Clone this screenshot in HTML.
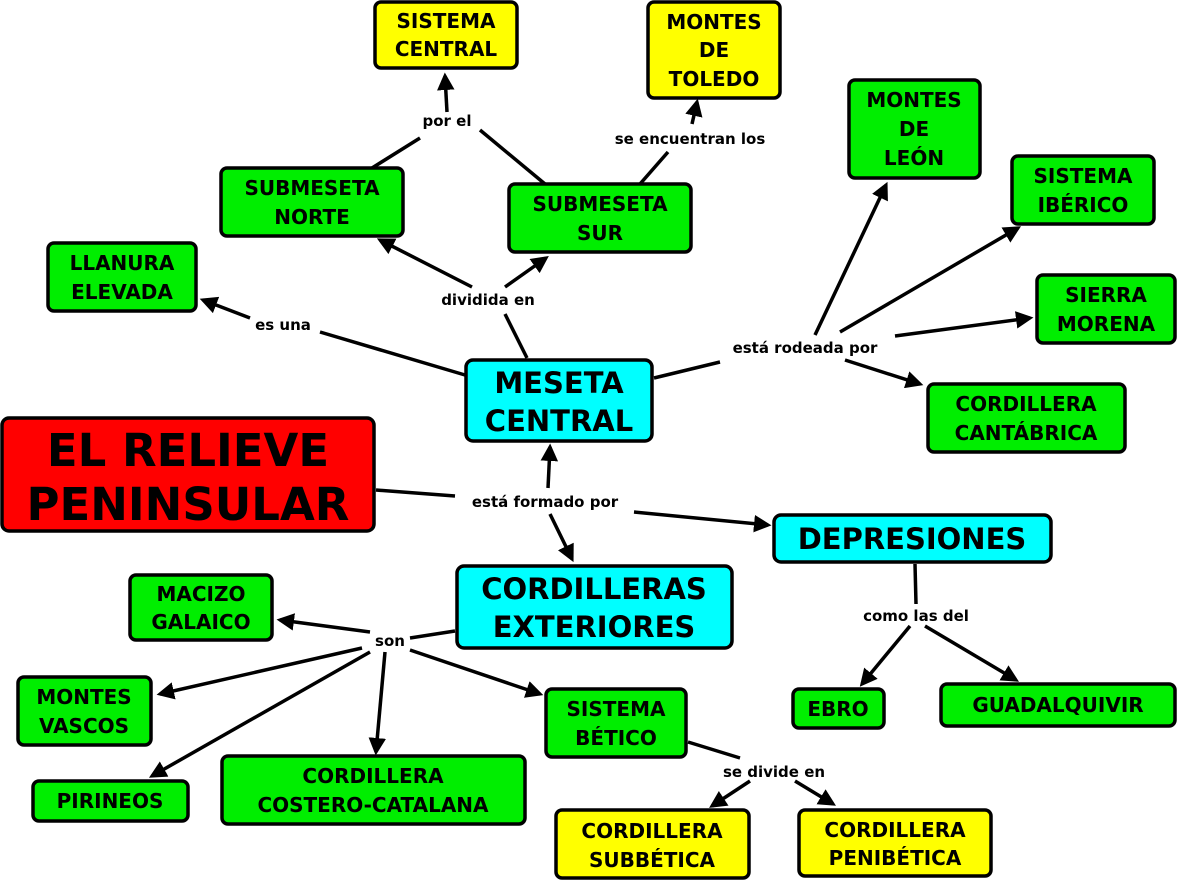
<!DOCTYPE html>
<html><head><meta charset="utf-8"><style>
html,body{margin:0;padding:0;background:#fff;}
svg{display:block}
text{font-family:"DejaVu Sans","Liberation Sans",sans-serif;font-weight:bold;fill:#000;text-anchor:middle}
.n{font-size:20px}
.l{font-size:15px}
.b{font-size:29px}
rect{stroke:#000;stroke-width:3.5}
line{stroke:#000;stroke-width:3.5}
</style></head><body>
<svg width="1179" height="882" viewBox="0 0 1179 882" xmlns="http://www.w3.org/2000/svg">
<defs><marker id="a" markerWidth="5" markerHeight="5" refX="4" refY="2.5" orient="auto" markerUnits="strokeWidth"><path d="M0,0 L5,2.5 L0,5 z" fill="#000"/></marker></defs>
<g>
<line x1="372" y1="168" x2="420" y2="138"/>
<line x1="545" y1="184" x2="480" y2="130"/>
<line x1="447" y1="112" x2="445" y2="76" marker-end="url(#a)"/>
<line x1="640" y1="184" x2="668" y2="152"/>
<line x1="692" y1="124" x2="697" y2="102" marker-end="url(#a)"/>
<line x1="527" y1="358" x2="505" y2="314"/>
<line x1="472" y1="287" x2="380" y2="240" marker-end="url(#a)"/>
<line x1="505" y1="287" x2="546" y2="258" marker-end="url(#a)"/>
<line x1="465" y1="375" x2="320" y2="332"/>
<line x1="250" y1="318" x2="203" y2="300" marker-end="url(#a)"/>
<line x1="654" y1="378" x2="720" y2="362"/>
<line x1="815" y1="335" x2="886" y2="185" marker-end="url(#a)"/>
<line x1="840" y1="332" x2="1018" y2="228" marker-end="url(#a)"/>
<line x1="895" y1="336" x2="1030" y2="318" marker-end="url(#a)"/>
<line x1="845" y1="360" x2="920" y2="384" marker-end="url(#a)"/>
<line x1="376" y1="490" x2="455" y2="496"/>
<line x1="548" y1="488" x2="550" y2="447" marker-end="url(#a)"/>
<line x1="550" y1="514" x2="572" y2="559" marker-end="url(#a)"/>
<line x1="634" y1="512" x2="768" y2="525" marker-end="url(#a)"/>
<line x1="915" y1="564" x2="916" y2="604"/>
<line x1="910" y1="626" x2="862" y2="684" marker-end="url(#a)"/>
<line x1="925" y1="626" x2="1016" y2="680" marker-end="url(#a)"/>
<line x1="455" y1="631" x2="410" y2="638"/>
<line x1="370" y1="632" x2="280" y2="620" marker-end="url(#a)"/>
<line x1="362" y1="648" x2="160" y2="694" marker-end="url(#a)"/>
<line x1="370" y1="652" x2="152" y2="776" marker-end="url(#a)"/>
<line x1="385" y1="652" x2="376" y2="752" marker-end="url(#a)"/>
<line x1="410" y1="650" x2="540" y2="694" marker-end="url(#a)"/>
<line x1="688" y1="742" x2="740" y2="758"/>
<line x1="750" y1="781" x2="712" y2="806" marker-end="url(#a)"/>
<line x1="795" y1="781" x2="833" y2="804" marker-end="url(#a)"/>
</g>
<g class="l">
<text class="l" x="447" y="126">por el</text>
<text class="l" x="690" y="144">se encuentran los</text>
<text class="l" x="488" y="305">dividida en</text>
<text class="l" x="283" y="330">es una</text>
<text class="l" x="805" y="353">está rodeada por</text>
<text class="l" x="545" y="507">está formado por</text>
<text class="l" x="916" y="621">como las del</text>
<text class="l" x="390" y="646">son</text>
<text class="l" x="774" y="777">se divide en</text>
</g>
<!-- yellow -->
<rect x="375" y="2" width="142" height="66" rx="6" fill="#ffff00"/>
<text class="n" x="446" y="28">SISTEMA</text><text class="n" x="446" y="56">CENTRAL</text>
<rect x="648" y="2" width="132" height="96" rx="6" fill="#ffff00"/>
<text class="n" x="714" y="29">MONTES</text><text class="n" x="714" y="57">DE</text><text class="n" x="714" y="86">TOLEDO</text>
<rect x="556" y="810" width="193" height="68" rx="6" fill="#ffff00"/>
<text class="n" x="652" y="838">CORDILLERA</text><text class="n" x="652" y="867">SUBBÉTICA</text>
<rect x="799" y="810" width="192" height="66" rx="6" fill="#ffff00"/>
<text class="n" x="895" y="837">CORDILLERA</text><text class="n" x="895" y="865">PENIBÉTICA</text>
<!-- green -->
<g fill="#00ee00">
<rect x="849" y="80" width="131" height="98" rx="6" fill="#00ee00"/>
<rect x="1012" y="156" width="142" height="68" rx="6" fill="#00ee00"/>
<rect x="1037" y="275" width="138" height="68" rx="6" fill="#00ee00"/>
<rect x="928" y="384" width="197" height="68" rx="6" fill="#00ee00"/>
<rect x="221" y="168" width="182" height="68" rx="6" fill="#00ee00"/>
<rect x="509" y="184" width="182" height="68" rx="6" fill="#00ee00"/>
<rect x="48" y="243" width="148" height="68" rx="6" fill="#00ee00"/>
<rect x="130" y="575" width="142" height="65" rx="6" fill="#00ee00"/>
<rect x="18" y="677" width="133" height="68" rx="6" fill="#00ee00"/>
<rect x="33" y="781" width="155" height="40" rx="6" fill="#00ee00"/>
<rect x="222" y="756" width="303" height="68" rx="6" fill="#00ee00"/>
<rect x="546" y="689" width="140" height="68" rx="6" fill="#00ee00"/>
<rect x="793" y="689" width="91" height="39" rx="6" fill="#00ee00"/>
<rect x="941" y="684" width="234" height="42" rx="6" fill="#00ee00"/>
</g>
<text class="n" x="914" y="107">MONTES</text><text class="n" x="914" y="136">DE</text><text class="n" x="914" y="165">LEÓN</text>
<text class="n" x="1083" y="183">SISTEMA</text><text class="n" x="1083" y="212">IBÉRICO</text>
<text class="n" x="1106" y="302">SIERRA</text><text class="n" x="1106" y="331">MORENA</text>
<text class="n" x="1026" y="411">CORDILLERA</text><text class="n" x="1026" y="440">CANTÁBRICA</text>
<text class="n" x="312" y="195">SUBMESETA</text><text class="n" x="312" y="224">NORTE</text>
<text class="n" x="600" y="211">SUBMESETA</text><text class="n" x="600" y="240">SUR</text>
<text class="n" x="122" y="270">LLANURA</text><text class="n" x="122" y="299">ELEVADA</text>
<text class="n" x="201" y="601">MACIZO</text><text class="n" x="201" y="629">GALAICO</text>
<text class="n" x="84" y="704">MONTES</text><text class="n" x="84" y="733">VASCOS</text>
<text class="n" x="110" y="808">PIRINEOS</text>
<text class="n" x="373" y="783">CORDILLERA</text><text class="n" x="373" y="812">COSTERO-CATALANA</text>
<text class="n" x="616" y="716">SISTEMA</text><text class="n" x="616" y="745">BÉTICO</text>
<text class="n" x="838" y="716">EBRO</text>
<text class="n" x="1058" y="712">GUADALQUIVIR</text>
<!-- cyan -->
<rect x="466" y="360" width="186" height="81" rx="7" fill="#00ffff"/>
<text class="b" x="559" y="393">MESETA</text><text class="b" x="559" y="431">CENTRAL</text>
<rect x="774" y="515" width="277" height="47" rx="7" fill="#00ffff"/>
<text class="b" x="912" y="549">DEPRESIONES</text>
<rect x="457" y="566" width="275" height="82" rx="7" fill="#00ffff"/>
<text class="b" x="594" y="599">CORDILLERAS</text><text class="b" x="594" y="637">EXTERIORES</text>
<!-- red -->
<rect x="2" y="418" width="372" height="113" rx="7" fill="#ff0000"/>
<text x="188" y="466" style="font-size:45px">EL RELIEVE</text>
<text x="188" y="520" style="font-size:45px">PENINSULAR</text>
</svg>
</body></html>
